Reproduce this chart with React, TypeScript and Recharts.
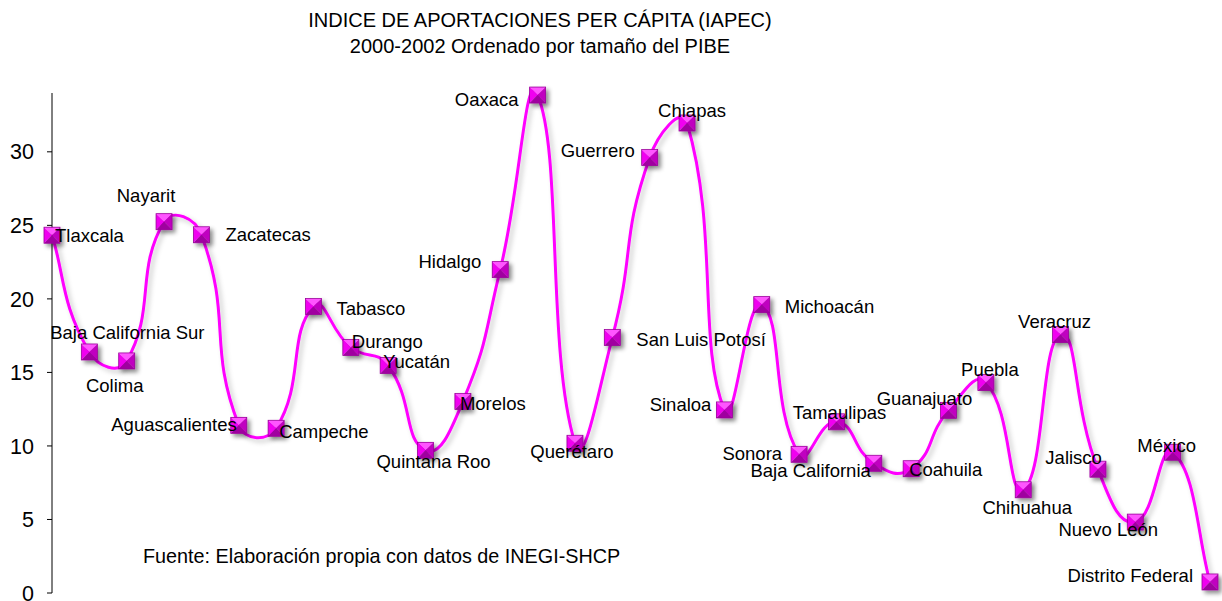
import { LineChart, Line, XAxis, YAxis } from "recharts";

const states = [
  "Tlaxcala", "Baja California Sur", "Colima", "Nayarit", "Zacatecas", "Aguascalientes",
  "Campeche", "Tabasco", "Durango", "Yucatán", "Quintana Roo", "Morelos", "Hidalgo",
  "Oaxaca", "Querétaro", "San Luis Potosí", "Guerrero", "Chiapas", "Sinaloa", "Michoacán",
  "Sonora", "Tamaulipas", "Baja California", "Coahuila", "Guanajuato", "Puebla",
  "Chihuahua", "Veracruz", "Jalisco", "Nuevo León", "México", "Distrito Federal",
];

const iapec = [
  24.33, 16.39, 15.78, 25.25, 24.36, 11.4, 11.2, 19.48, 16.7, 15.47, 9.7, 13.03, 21.99,
  33.86, 10.18, 17.37, 29.62, 31.96, 12.45, 19.61, 9.43, 11.64, 8.82, 8.45, 12.42, 14.32,
  7.02, 17.58, 8.42, 4.82, 9.57, 0.75,
];

const yTicks = [0, 5, 10, 15, 20, 25, 30];

// label placement: [anchor, dx, dy] from the marker centre
const labelPlace: [string, number, number][] = [
  ["start", 3, 0], ["middle", 38, -19], ["middle", -12, 25], ["middle", -18, -26],
  ["start", 24, 0], ["end", -2, -1], ["start", 3, 3], ["start", 23, 2],
  ["start", 1, -6], ["start", -5, -4], ["middle", 8, 11], ["start", -3, 2],
  ["end", -19, -8], ["end", -19, 4], ["middle", -3, 8], ["start", 24, 2],
  ["end", -15, -7], ["middle", 5, -13], ["end", -13, -5], ["start", 23, 2],
  ["end", -17, -1], ["middle", 3, -9], ["end", -3, 7], ["start", -2, 1],
  ["middle", -24, -12], ["middle", 4, -13], ["middle", 4, 18], ["middle", -6, -13],
  ["end", 4, -12], ["middle", -27, 7], ["middle", -6, -7], ["end", -17, -6],
];

const data = states.map((s, i) => ({ name: s, v: iapec[i] }));

const FONT = "'Liberation Sans', Arial, sans-serif";

// Excel-like smoothed line: bezier handles scaled by neighbouring segment lengths
function smoothCurve(context: any) {
  let pts: [number, number][] = [];
  const dist = (a: [number, number], b: [number, number]) => Math.hypot(b[0] - a[0], b[1] - a[1]);
  return {
    areaStart() {},
    areaEnd() {},
    lineStart() {
      pts = [];
    },
    point(x: number, y: number) {
      pts.push([+x, +y]);
    },
    lineEnd() {
      const n = pts.length;
      if (!n) return;
      const f = 0.5;
      context.moveTo(pts[0][0], pts[0][1]);
      for (let i = 0; i < n - 1; i++) {
        const p0 = pts[i - 1] || pts[i];
        const p1 = pts[i];
        const p2 = pts[i + 1];
        const p3 = pts[i + 2] || p2;
        const d01 = dist(p0, p1);
        const d12 = dist(p1, p2);
        const d23 = dist(p2, p3);
        const k1 = d01 + d12 > 0 ? (f * d12) / (d01 + d12) : 0;
        const k2 = d12 + d23 > 0 ? (f * d12) / (d12 + d23) : 0;
        const e1 = i === 0 ? 1 / 3 : k1;
        const e2 = i === n - 2 ? 1 / 3 : k2;
        context.bezierCurveTo(
          p1[0] + (p2[0] - p0[0]) * e1,
          p1[1] + (p2[1] - p0[1]) * e1,
          p2[0] - (p3[0] - p1[0]) * e2,
          p2[1] - (p3[1] - p1[1]) * e2,
          p2[0],
          p2[1]
        );
      }
    },
  };
}

function Marker(props: any) {
  const { cx, cy, index } = props;
  if (cx == null || cy == null) return <g key={index} />;
  const h = 8;
  const l = cx - h, r = cx + h, t = cy - h, b = cy + h;
  return (
    <g key={index} filter="url(#mkShadow)">
      <polygon points={`${l},${t} ${r},${t} ${cx},${cy}`} fill="#FF55FF" />
      <polygon points={`${l},${t} ${l},${b} ${cx},${cy}`} fill="#F000F0" />
      <polygon points={`${r},${t} ${r},${b} ${cx},${cy}`} fill="#C000C0" />
      <polygon points={`${l},${b} ${r},${b} ${cx},${cy}`} fill="#A000A0" />
      <rect x={l} y={t} width={16} height={16} fill="none" stroke="#9A009A" strokeWidth={0.8} />
    </g>
  );
}

function StateLabel(props: any) {
  const { cx, cy, index } = props;
  if (cx == null || cy == null) return <g key={index} />;
  const [anchor, dx, dy] = labelPlace[index];
  return (
    <text
      key={index}
      x={cx + dx}
      y={cy + dy}
      textAnchor={anchor as any}
      dominantBaseline="central"
      fontFamily={FONT}
      fontSize={18.5}
      fill="#000"
    >
      {states[index]}
    </text>
  );
}

export default function App() {
  return (
    <div style={{ position: "absolute", left: 0, top: 0, width: 1222, height: 601, background: "#fff" }}>
      <div
        style={{
          position: "absolute",
          left: 0,
          top: 7,
          width: 1080,
          textAlign: "center",
          fontFamily: FONT,
          fontSize: 20,
          lineHeight: "26px",
          color: "#000",
        }}
      >
        INDICE DE APORTACIONES PER CÁPITA (IAPEC)
        <br />
        2000-2002 Ordenado por tamaño del PIBE
      </div>
      <LineChart
        width={1222}
        height={601}
        data={data}
        margin={{ top: 93, right: 12, bottom: 8, left: 0 }}
      >
        <defs>
          <filter id="mkShadow" x="-50%" y="-50%" width="200%" height="200%">
            <feDropShadow dx={3} dy={3} stdDeviation={2} floodColor="#000" floodOpacity={0.45} />
          </filter>
          <filter id="lnShadow" x="-5%" y="-5%" width="110%" height="110%">
            <feDropShadow dx={3} dy={3} stdDeviation={2.5} floodColor="#000" floodOpacity={0.22} />
          </filter>
        </defs>
        <XAxis dataKey="name" hide padding={{ left: 0, right: 0 }} />
        <YAxis
          width={52}
          domain={[0, 34]}
          ticks={yTicks}
          interval={0}
          tickSize={5}
          tickMargin={13}
          axisLine={{ stroke: "#000", strokeWidth: 1 }}
          tickLine={{ stroke: "#000", strokeWidth: 1 }}
          tick={{ fill: "#000", fontSize: 21.5, fontFamily: FONT }}
        />
        <Line
          type={smoothCurve as any}
          dataKey="v"
          stroke="#FF00FF"
          strokeWidth={3}
          filter="url(#lnShadow)"
          dot={Marker}
          activeDot={false}
          isAnimationActive={false}
        />
        <Line
          type="linear"
          dataKey="v"
          stroke="none"
          dot={StateLabel}
          activeDot={false}
          isAnimationActive={false}
        />
      </LineChart>
      <div
        style={{
          position: "absolute",
          left: 143,
          top: 544,
          fontFamily: FONT,
          fontSize: 19.8,
          lineHeight: "24px",
          color: "#000",
          whiteSpace: "nowrap",
        }}
      >
        Fuente: Elaboración propia con datos de INEGI-SHCP
      </div>
    </div>
  );
}
